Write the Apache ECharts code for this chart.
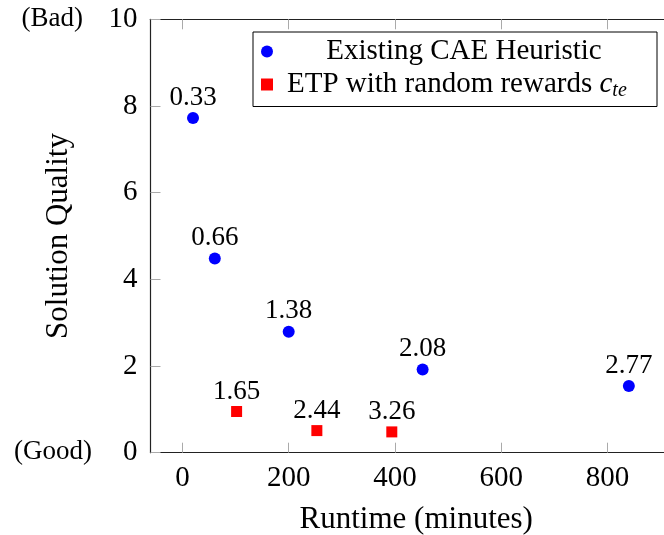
<!DOCTYPE html>
<html>
<head>
<meta charset="utf-8">
<script src="https://cdn.jsdelivr.net/npm/echarts/dist/echarts.min.js"></script>
<style>
  html, body { margin: 0; padding: 0; background: #fff; }
  #container { width: 664px; height: 535px; }
</style>
</head>
<body>
<div id="container"></div>
<script type="text/javascript">
// data
var caeX = [20, 61, 200, 452, 840];
var caeY = [7.72, 4.48, 2.79, 1.92, 1.54];
var caeLabels = ['0.33', '0.66', '1.38', '2.08', '2.77'];

var etpX = [102, 253, 394];
var etpY = [0.95, 0.51, 0.48];
var etpLabels = ['1.65', '2.44', '3.26'];

var xTicks = [0, 200, 400, 600, 800];
var yTicks = [0, 2, 4, 6, 8, 10];

var FONT = "'Liberation Serif', serif";

function pairs(xs, ys) {
    var out = [];
    for (var i = 0; i < xs.length; i++) out.push([xs[i], ys[i]]);
    return out;
}

var dom = document.getElementById("container");
var myChart = echarts.init(dom, null, {renderer: 'canvas'});
var option = {
    animation: false,
    backgroundColor: '#fff',
    textStyle: { fontFamily: FONT, color: '#000' },
    grid: { left: 150.5, top: 19.3, width: 531.5, height: 433.4, outerBoundsMode: 'none', containLabel: false },
    legend: {
        orient: 'vertical',
        left: 253,
        top: 32,
        padding: [5, 7, 6, 8],
        itemGap: 4,
        itemWidth: 12,
        itemHeight: 12,
        borderColor: '#000',
        borderWidth: 1,
        backgroundColor: '#fff',
        data: [
            { name: 'Existing CAE Heuristic', icon: 'circle' },
            { name: 'ETP with random rewards', icon: 'rect' }
        ],
        formatter: function (name) {
            if (name === 'Existing CAE Heuristic') return '{a|' + name + '}';
            return '{n|' + name + ' }{c|c}{s|te}';
        },
        textStyle: {
            fontFamily: FONT,
            color: '#000',
            rich: {
                a: { fontFamily: FONT, fontSize: 29, lineHeight: 32, width: 372, align: 'center' },
                n: { fontFamily: FONT, fontSize: 29, lineHeight: 32, padding: [0, 0, 0, 9] },
                c: { fontFamily: FONT, fontSize: 29, lineHeight: 32, fontStyle: 'italic' },
                s: { fontFamily: FONT, fontSize: 20, lineHeight: 20, fontStyle: 'italic', verticalAlign: 'bottom' }
            }
        }
    },
    graphic: [
        { type: 'text', right: 664 - 83, top: 5, style: { text: '(Bad)', font: '27px ' + FONT, fill: '#000' } },
        { type: 'text', right: 664 - 92, top: 438, style: { text: '(Good)', font: '27px ' + FONT, fill: '#000' } }
    ],
    xAxis: [
        {
            type: 'value',
            min: -60,
            max: 940,
            name: 'Runtime (minutes)',
            nameLocation: 'middle',
            nameGap: 52,
            nameTextStyle: { fontFamily: FONT, fontSize: 31, color: '#000' },
            axisLine: { show: true, onZero: false, lineStyle: { color: '#222', width: 1.2 } },
            axisTick: { show: true, inside: true, length: 10, customValues: xTicks, lineStyle: { color: '#aaa' } },
            axisLabel: { customValues: xTicks, fontFamily: FONT, fontSize: 29, color: '#000', margin: 11 },
            splitLine: { show: false }
        },
        {
            type: 'value',
            position: 'top',
            min: -60,
            max: 940,
            axisLine: { show: true, onZero: false, lineStyle: { color: '#222', width: 1.2 } },
            axisTick: { show: true, inside: true, length: 10, customValues: xTicks, lineStyle: { color: '#aaa' } },
            axisLabel: { show: false },
            splitLine: { show: false }
        }
    ],
    yAxis: {
        type: 'value',
        min: 0,
        max: 10,
        interval: 2,
        name: 'Solution Quality',
        nameLocation: 'middle',
        nameGap: 76,
        nameTextStyle: { fontFamily: FONT, fontSize: 31, color: '#000' },
        axisLine: { show: true, onZero: false, lineStyle: { color: '#222', width: 1.2 } },
        axisTick: { show: true, inside: true, length: 10, customValues: yTicks, lineStyle: { color: '#aaa' } },
        axisLabel: { fontFamily: FONT, fontSize: 29, color: '#000', margin: 13 },
        splitLine: { show: false }
    },
    series: [
        {
            name: 'Existing CAE Heuristic',
            type: 'scatter',
            symbol: 'circle',
            symbolSize: 12,
            itemStyle: { color: '#0000ff', opacity: 1 },
            data: pairs(caeX, caeY),
            label: {
                show: true,
                position: 'top',
                distance: 1,
                fontFamily: FONT,
                fontSize: 27,
                color: '#000',
                formatter: function (p) { return caeLabels[p.dataIndex]; }
            }
        },
        {
            name: 'ETP with random rewards',
            type: 'scatter',
            symbol: 'rect',
            symbolSize: 11,
            itemStyle: { color: '#ff0000', opacity: 1 },
            data: pairs(etpX, etpY),
            label: {
                show: true,
                position: 'top',
                distance: 1,
                fontFamily: FONT,
                fontSize: 27,
                color: '#000',
                formatter: function (p) { return etpLabels[p.dataIndex]; }
            }
        }
    ]
};

if (option && typeof option === "object") {
    myChart.setOption(option, true);
}
</script>
</body>
</html>
